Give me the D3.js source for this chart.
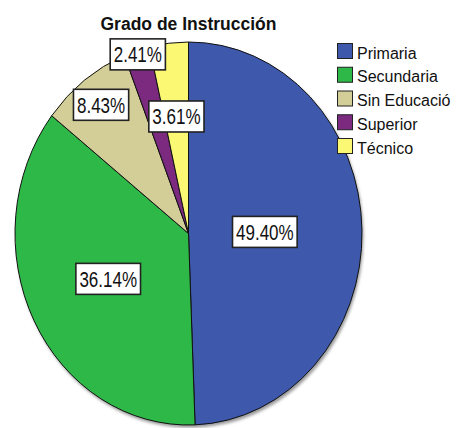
<!DOCTYPE html>
<html>
<head>
<meta charset="utf-8">
<script src="https://cdn.jsdelivr.net/npm/d3@7"></script>
<style>
  body { margin: 0; background: #fff; }
  svg { display: block; }
  text { font-family: "Liberation Sans", Arial, sans-serif; }
</style>
</head>
<body>
<svg id="chart"></svg>
<script>
const categories = ["Primaria", "Secundaria", "Sin Educació", "Superior", "Técnico"];
const counts = [41, 30, 7, 2, 3];
const colors = ["#3e58ac", "#2eb848", "#d3ce97", "#7b2a7f", "#fbf873"];
// how far out each label sits, as a share of the radius
const labelRadius = [0.44, 0.52, 0.84, 0.98, 0.615];

const size = { width: 456, height: 428 };
const center = { x: 188.5, y: 233.5 };
const rx = 173.5, ry = 191.5;
const stretch = ry / rx;

const total = d3.sum(counts);
const pct = c => (c / total * 100).toFixed(2) + "%";

const svg = d3.select("#chart")
  .attr("width", size.width)
  .attr("height", size.height);

const defs = svg.append("defs");
defs.append("filter").attr("id", "blur")
  .append("feGaussianBlur").attr("stdDeviation", 1.5);

svg.append("text")
  .attr("x", center.x)
  .attr("y", 30)
  .attr("text-anchor", "middle")
  .attr("font-weight", "bold")
  .attr("font-size", "17.5px")
  .attr("fill", "#111")
  .text("Grado de Instrucción");

const pie = d3.pie().sort(null).value(d => d)(counts);
const arc = d3.arc().innerRadius(0).outerRadius(rx);

const g = svg.append("g")
  .attr("transform", `translate(${center.x},${center.y}) scale(1,${stretch})`);

g.append("circle")
  .attr("cx", 1.5).attr("cy", 2.5).attr("r", rx)
  .attr("fill", "#999")
  .attr("filter", "url(#blur)");

g.selectAll("path.slice")
  .data(pie)
  .join("path")
  .attr("class", "slice")
  .attr("d", arc)
  .attr("fill", (d, i) => colors[i])
  .attr("stroke", "#111")
  .attr("stroke-width", 1)
  .attr("vector-effect", "non-scaling-stroke");

const labelG = svg.append("g")
  .attr("transform", `translate(${center.x},${center.y})`);

pie.forEach((d, i) => {
  const r = labelRadius[i] * rx;
  const [cx, cy] = d3.arc().innerRadius(r).outerRadius(r).centroid(d);
  const lg = labelG.append("g")
    .attr("transform", `translate(${cx},${cy * stretch})`);
  const rect = lg.append("rect");
  const t = lg.append("text")
    .attr("text-anchor", "middle")
    .attr("dy", "0.36em")
    .attr("font-size", "17px")
    .attr("fill", "#111")
    .attr("transform", "scale(1,1.28)")
    .text(pct(counts[i]));
  const w = t.node().getComputedTextLength() + 7;
  const h = 31;
  rect.attr("x", -w / 2).attr("y", -h / 2)
    .attr("width", w).attr("height", h)
    .attr("fill", "#fff")
    .attr("stroke", "#222")
    .attr("stroke-width", 1.6);
});

const legend = svg.append("g")
  .attr("transform", "translate(337,43)");

const rows = legend.selectAll("g")
  .data(categories)
  .join("g")
  .attr("transform", (d, i) => `translate(0,${i * 23.75})`);

rows.append("rect")
  .attr("x", 0.5).attr("y", 0.5)
  .attr("width", 15).attr("height", 15)
  .attr("fill", (d, i) => colors[i])
  .attr("stroke", "#222")
  .attr("stroke-width", 1);

rows.append("text")
  .attr("x", 20)
  .attr("y", 15.5)
  .attr("font-size", "16px")
  .attr("fill", "#111")
  .text(d => d);
</script>
</body>
</html>
